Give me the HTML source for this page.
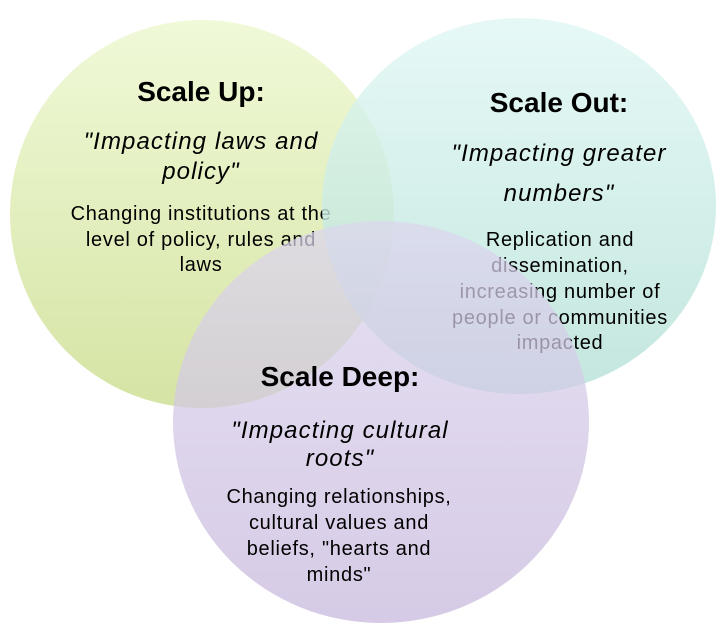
<!DOCTYPE html>
<html><head><meta charset="utf-8"><style>
html,body{margin:0;padding:0;background:#fff;width:726px;height:639px;overflow:hidden}
text{font-family:"Liberation Sans",sans-serif;fill:#000;text-anchor:middle}
.t{font-weight:bold;font-size:28px}
.i{font-style:italic;font-size:24px;letter-spacing:1.1px}
.b{font-size:20px;letter-spacing:0.7px}
</style></head><body>
<svg width="726" height="639" viewBox="0 0 726 639" xmlns="http://www.w3.org/2000/svg">
<defs>
<linearGradient id="g" x1="0" y1="0" x2="0" y2="1"><stop offset="0" stop-color="#f0f9d8"/><stop offset="1" stop-color="#d5e4a4"/></linearGradient>
<linearGradient id="tl" x1="0" y1="0" x2="0" y2="1"><stop offset="0" stop-color="#e0f7f4"/><stop offset="1" stop-color="#b4e0d6"/></linearGradient>
<linearGradient id="p" x1="0" y1="0" x2="0" y2="1"><stop offset="0" stop-color="#ddd6ee"/><stop offset="1" stop-color="#c6b6dc"/></linearGradient>
</defs>
<ellipse cx="202" cy="214" rx="192" ry="194" fill="url(#g)"/>
<text class="t" x="201" y="101">Scale Up:</text>
<text class="i" x="201" y="149">"Impacting laws and</text>
<text class="i" x="201" y="179">policy"</text>
<text class="b" x="201" y="220">Changing institutions at the</text>
<text class="b" x="201" y="246">level of policy, rules and</text>
<text class="b" x="201" y="271">laws</text>
<ellipse cx="519" cy="206" rx="197" ry="188" fill="url(#tl)" opacity="0.8"/>
<text class="t" x="559" y="112">Scale Out:</text>
<text class="i" x="559" y="161">"Impacting greater</text>
<text class="i" x="559" y="201">numbers"</text>
<text class="b" x="560" y="246">Replication and</text>
<text class="b" x="560" y="272">dissemination,</text>
<text class="b" x="560" y="298">increasing number of</text>
<text class="b" x="560" y="324">people or communities</text>
<text class="b" x="560" y="349">impacted</text>
<ellipse cx="381" cy="422" rx="208" ry="201" fill="url(#p)" opacity="0.72"/>
<text class="t" x="340" y="386">Scale Deep:</text>
<text class="i" x="340" y="438">"Impacting cultural</text>
<text class="i" x="340" y="466">roots"</text>
<text class="b" x="339" y="503">Changing relationships,</text>
<text class="b" x="339" y="529">cultural values and</text>
<text class="b" x="339" y="555">beliefs, "hearts and</text>
<text class="b" x="339" y="581">minds"</text>
</svg>
</body></html>
